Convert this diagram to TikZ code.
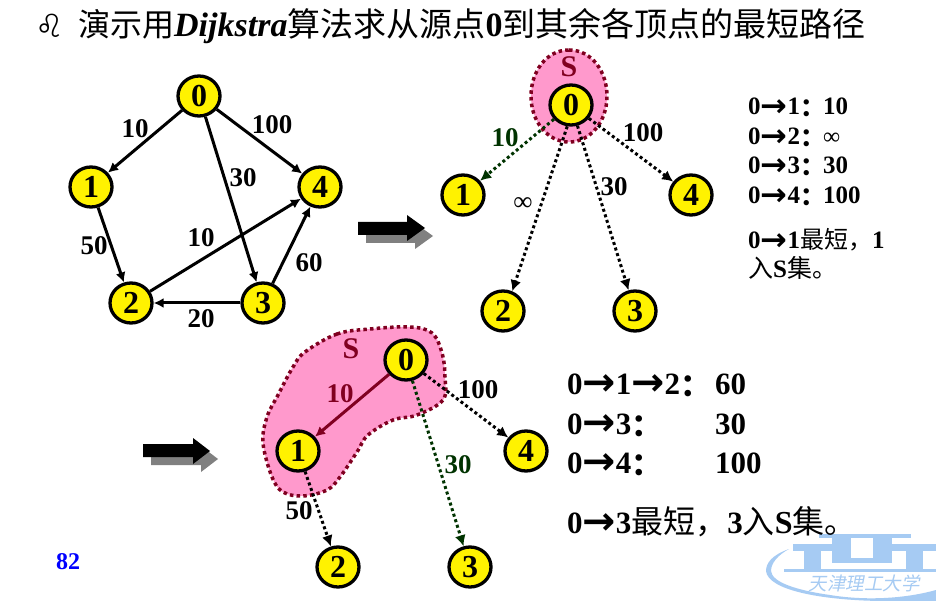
\documentclass[tikz,border=0pt]{standalone}
\usepackage{graphicx}
\usepackage{fontspec}
\setmainfont{Liberation Serif}
\newfontfamily\cjk{Noto Sans CJK SC}
\newfontfamily\cjks[FakeSlant=0.2]{Noto Sans CJK SC}
\newfontfamily\symf{DejaVu Sans}
\newfontfamily\arrf[BoldFont=*]{DejaVu Sans Bold}
\usetikzlibrary{shapes.geometric,arrows.meta}
\definecolor{pinkfill}{HTML}{FF99CC}
\definecolor{maroon}{HTML}{800020}
\definecolor{dgreen}{HTML}{003300}
\definecolor{logoblue}{HTML}{A6CBF3}
\newcommand{\arr}{\raisebox{-0.06em}{\scalebox{1.28}[1.25]{\arrf\symbol{"2192}}}}
\newcommand{\cj}[1]{{\cjk\mdseries #1}}
\newcommand{\cjb}[1]{\raisebox{-0.07em}{\cjk\bfseries #1}}
\tikzset{
  vert/.style={ellipse,draw=black,fill=yellow,line width=3.3pt,minimum width=42pt,minimum height=40pt,inner sep=0pt,font=\fontsize{32}{32}\selectfont\bfseries},
  solidedge/.style={line width=3pt,-{Latex[length=10pt,width=10pt]}},
  dotedge/.style={line width=3pt,dash pattern=on 3pt off 2.8pt,-{Latex[length=11pt,width=11pt]}},
  elabel/.style={font=\fontsize{27}{27}\selectfont\bfseries,inner sep=0pt},
  inflabel/.style={font=\fontsize{27}{27}\selectfont,inner sep=0pt},
  tablea/.style={anchor=base west,inner sep=0pt,font=\fontsize{25}{25}\selectfont\bfseries},
  tableb/.style={anchor=base west,inner sep=0pt,font=\fontsize{31}{31}\selectfont\bfseries},
  setblob/.style={fill=pinkfill,draw=maroon,line width=3.5pt,dash pattern=on 3.5pt off 3.2pt},
  bigarrow/.style={fill=black},
  bigshadow/.style={fill=black!50},
}
\begin{document}
\begin{tikzpicture}[x=1pt,y=-1pt]
\useasboundingbox (0,0) rectangle (936,601);
\fill[white] (0,0) rectangle (936,601);

% logo
\begin{scope}[logoblue]
\fill (789,549) .. controls (772,555) and (766,563) .. (766,571) .. controls (768,590) and (820,600) .. (880,601) -- (936,601) -- (936,590) .. controls (900,600) and (860,600) .. (830,595) .. controls (795,590) and (772,582) .. (771,571) .. controls (771,563) and (778,555) .. (789,549) -- cycle;
\fill (784,569) rectangle (936,572);
\fill (819,534) rectangle (911,538);
\fill (832,534) rectangle (851,563);
\fill (873,534) rectangle (892,563);
\fill (832,558) rectangle (892,563);
\fill (793,544) rectangle (832,551);
\fill (804,544) rectangle (821,569);
\fill (892,544) rectangle (936,551);
\fill (906,544) rectangle (923,569);
\end{scope}
\node[inner sep=0pt,text=logoblue,font=\fontsize{18.5}{18.5}\cjks] (logotext) at (864,583) {天津理工大学};

% title
\node[anchor=base,inner sep=0pt,font=\fontsize{32}{32}\symf] (bullet) at (50,38) {♌};
\node[anchor=base west,inner sep=0pt,font=\fontsize{33}{33}\selectfont\cjk] (title) at (78,37) {{\fontsize{32}{32}\selectfont 演示用}{\fontsize{34}{34}\fontspec{Liberation Serif}\bfseries\itshape Dijkstra}算法求从源点{\fontsize{34}{34}\fontspec{Liberation Serif}\bfseries 0}到其余各顶点的最短路径};

% graph 1
\node[vert] (a0) at (199,96) {0};
\node[vert] (a1) at (91,187) {1};
\node[vert] (a2) at (131,303) {2};
\node[vert] (a3) at (263,303) {3};
\node[vert] (a4) at (320,187) {4};
\draw[solidedge] (a0) -- (a1);
\draw[solidedge] (a0) -- (a3);
\draw[solidedge] (a0) -- (a4);
\draw[solidedge] (a1) -- (a2);
\draw[solidedge] (a2) -- (a4);
\draw[solidedge] (a3) -- (a2);
\draw[solidedge] (a3) -- (a4);
\node[elabel] (la1) at (135,129) {10};
\node[elabel] (la2) at (272,125) {100};
\node[elabel] (la3) at (243,178) {30};
\node[elabel] (la4) at (94,246) {50};
\node[elabel] (la5) at (201,238) {10};
\node[elabel] (la6) at (309,263) {60};
\node[elabel] (la7) at (201,319) {20};

% block arrow 1
\fill[bigshadow] (366,230) -- (415,230) -- (415,223) -- (433,236) -- (415,249) -- (415,243) -- (366,243) -- cycle;
\fill[bigarrow] (358,222) -- (407,222) -- (407,215) -- (425,228) -- (407,241) -- (407,235) -- (358,235) -- cycle;

% graph 2
\draw[setblob] (569,50) .. controls (592,50) and (607,72) .. (607,96) .. controls (607,122) and (590,142) .. (569,142) .. controls (548,142) and (531,122) .. (531,96) .. controls (531,72) and (546,50) .. (569,50) -- cycle;
\node[vert] (b0) at (571,105) {0};
\node[vert] (b1) at (463,195) {1};
\node[vert] (b2) at (503,311) {2};
\node[vert] (b3) at (635,311) {3};
\node[vert] (b4) at (691,195) {4};
\draw[dotedge,dgreen] (b0) -- (b1);
\draw[dotedge] (b0.-100) -- (b2.65);
\draw[dotedge] (b0) -- (b3);
\draw[dotedge] (b0) -- (b4);
\node[font=\fontsize{30}{30}\selectfont\bfseries,text=maroon,inner sep=0pt] (s1) at (569,67) {S};
\node[elabel,text=dgreen] (lb1) at (505,138) {10};
\node[elabel] (lb2) at (643,133) {100};
\node[elabel] (lb3) at (614,187) {30};
\node[inflabel] (lb4) at (523,204) {∞};

% table 1
\node[tablea] (t1) at (748,115) {0\arr 1\cjb{：}};
\node[tablea] (v1) at (823,115) {10};
\node[tablea] (t2) at (748,145) {0\arr 2\cjb{：}};
\node[tablea,font=\fontsize{24}{24}\selectfont] (v2) at (823,145) {∞};
\node[tablea] (t3) at (748,174) {0\arr 3\cjb{：}};
\node[tablea] (v3) at (823,174) {30};
\node[tablea] (t4) at (748,204) {0\arr 4\cjb{：}};
\node[tablea] (v4) at (823,204) {100};
\node[tablea] (t5) at (748,249) {0\arr 1{\fontsize{24}{24}\selectfont\cj{最短，}}1};
\node[tablea] (t6) at (748,278) {\cj{入}S\cj{集。}};

% graph 3
\draw[setblob] plot[smooth cycle,tension=0.6] coordinates {(305,352) (337,334) (370,329) (410,327) (432,333) (442,353) (445,377) (443,400) (417,415) (393,420) (368,435) (357,452) (340,477) (327,490) (303,496) (283,492) (272,477) (263,443) (267,417) (278,395) (293,367)};
\node[vert] (c0) at (406,360) {0};
\node[vert] (c1) at (298,451) {1};
\node[vert] (c2) at (338,567) {2};
\node[vert] (c3) at (470,567) {3};
\node[vert] (c4) at (526,451) {4};
\draw[solidedge,maroon] (c0) -- (c1);
\draw[dotedge,dgreen] (c0) -- (c3);
\draw[dotedge] (c0) -- (c4);
\draw[dotedge] (c1) -- (c2);
\node[font=\fontsize{30}{30}\selectfont\bfseries,text=maroon,inner sep=0pt] (s2) at (351,349) {S};
\node[elabel,text=maroon] (lc1) at (340,394) {10};
\node[elabel] (lc2) at (478,390) {100};
\node[elabel,text=dgreen] (lc3) at (458,465) {30};
\node[elabel] (lc4) at (299,511) {50};

% block arrow 2
\fill[bigshadow] (151,452) -- (201,452) -- (201,446) -- (218,459) -- (201,472) -- (201,465) -- (151,465) -- cycle;
\fill[bigarrow] (143,444) -- (193,444) -- (193,438) -- (210,451) -- (193,464) -- (193,457) -- (143,457) -- cycle;

% table 2
\node[tableb] (u1) at (567,394) {0\arr 1\arr 2\cjb{：}};
\node[tableb] (w1) at (715,394) {60};
\node[tableb] (u2) at (567,434) {0\arr 3\cjb{：}};
\node[tableb] (w2) at (715,434) {30};
\node[tableb] (u3) at (567,473) {0\arr 4\cjb{：}};
\node[tableb] (w3) at (715,473) {100};
\node[tableb] (u4) at (567,533) {0\arr 3{\fontsize{32}{32}\selectfont\cj{最短，}}3{\fontsize{32}{32}\selectfont\cj{入}S\cj{集。}}};

% page number
\node[inner sep=0pt,text=blue,font=\fontsize{24}{24}\selectfont\bfseries] (page) at (68,562) {82};
\end{tikzpicture}
\end{document}
